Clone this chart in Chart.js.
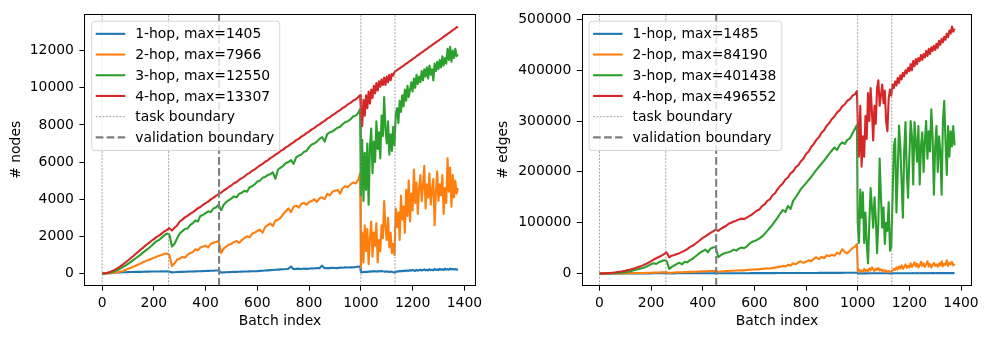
<!DOCTYPE html>
<html>
<head>
<meta charset="utf-8">
<script src="https://cdn.jsdelivr.net/npm/chart.js@4.4.0/dist/chart.umd.min.js"></script>
<style>
  html, body { margin: 0; padding: 0; background: #fff; }
  #wrap { position: relative; width: 988px; height: 339px; }
  canvas { position: absolute; top: 0; }
</style>
</head>
<body>
<div id="wrap">
  <canvas id="nodesChart" width="494" height="339" style="left:0;width:494px;height:339px"></canvas>
  <canvas id="edgesChart" width="494" height="339" style="left:494px;width:494px;height:339px"></canvas>
</div>
<script>
// Batch indices where values were read (every 10 before the jump, every 5 after)
const batches = [
  0, 10, 20, 30, 40, 50, 60, 70, 80, 90,
  100, 110, 120, 130, 140, 150, 160, 170, 180, 190,
  200, 210, 220, 230, 240, 250, 260, 270, 280, 290,
  300, 310, 320, 330, 340, 350, 360, 370, 380, 390,
  400, 410, 420, 430, 440, 450, 460, 470, 480, 490,
  500, 510, 520, 530, 540, 550, 560, 570, 580, 590,
  600, 610, 620, 630, 640, 650, 660, 670, 680, 690,
  700, 710, 720, 730, 740, 750, 760, 770, 780, 790,
  800, 810, 820, 830, 840, 850, 860, 870, 880, 890,
  900, 910, 920, 930, 940, 950, 960, 970, 980, 990,
  997,
  1000, 1005, 1010, 1015, 1020, 1025, 1030, 1035, 1040, 1045,
  1050, 1055, 1060, 1065, 1070, 1075, 1080, 1085, 1090, 1095,
  1100, 1105, 1110, 1115, 1120, 1125, 1130, 1135, 1140, 1145,
  1150, 1155, 1160, 1165, 1170, 1175, 1180, 1185, 1190, 1195,
  1200, 1205, 1210, 1215, 1220, 1225, 1230, 1235, 1240, 1245,
  1250, 1255, 1260, 1265, 1270, 1275, 1280, 1285, 1290, 1295,
  1300, 1305, 1310, 1315, 1320, 1325, 1330, 1335, 1340, 1345,
  1350, 1355, 1360, 1365, 1370, 1375
];

const hops = ['1-hop', '2-hop', '3-hop', '4-hop'];
const nodeMax = [1405, 7966, 12550, 13307];
const edgeMax = [1485, 84190, 401438, 496552];

// # nodes
const nodes1 = [
  0, 5, 10, 20, 30, 40, 50, 60, 65, 70,
  75, 80, 80, 85, 90, 90, 95, 100, 100, 105,
  105, 110, 110, 115, 110, 120, 100, 60, 70, 80,
  85, 90, 95, 100, 105, 110, 115, 120, 125, 130,
  135, 140, 145, 150, 160, 165, 50, 60, 70, 75,
  80, 85, 90, 95, 100, 105, 110, 115, 120, 125,
  130, 140, 150, 160, 170, 180, 190, 200, 210, 220,
  230, 240, 260, 380, 230, 250, 260, 240, 270, 250,
  260, 280, 270, 300, 290, 420, 280, 300, 290, 310,
  300, 290, 320, 310, 330, 320, 340, 330, 350, 370,
  380,
  80, 60, 90, 70, 100, 80, 110, 90, 120, 100,
  130, 110, 120, 100, 130, 110, 140, 120, 110, 90,
  120, 100, 80, 110, 90, 70, 60, 80, 120, 100,
  140, 110, 150, 120, 160, 130, 170, 140, 180, 150,
  190, 160, 140, 200, 150, 170, 210, 160, 190, 220,
  170, 200, 160, 230, 180, 210, 170, 240, 190, 220,
  180, 250, 200, 230, 190, 260, 210, 240, 200, 270,
  220, 250, 210, 240, 200, 230
];
const nodes2 = [
  0, 5, 10, 20, 35, 50, 70, 100, 140, 190,
  250, 300, 360, 420, 480, 550, 620, 680, 730, 790,
  840, 900, 950, 1000, 1050, 1080, 1000, 400, 550, 750,
  800, 900, 850, 1000, 1100, 1150, 1300, 1250, 1400, 1450,
  1500, 1400, 1600, 1650, 1700, 1750, 1100, 1350, 1450, 1550,
  1600, 1700, 1750, 1650, 1800, 1900, 2000, 1950, 2150, 2200,
  2300, 2350, 2200, 2500, 2600, 2700, 2550, 2850, 2900, 3000,
  3200, 3350, 3500, 3300, 3600, 3650, 3550, 3750, 3800, 3700,
  3850, 3900, 4000, 3850, 4050, 4100, 4000, 4300, 4200, 4400,
  4450, 4500, 4300, 4600, 4700, 4650, 4800, 4900, 4850, 5050,
  5400,
  300, 2200, 600, 2600, 1200, 2400, 500, 1900, 2800, 900,
  2200, 1500, 2700, 600, 1800, 1200, 2600, 1900, 3900, 2500,
  1800, 3000, 1400, 2200, 1100, 1600, 1000, 3500, 2500, 3300,
  1800, 4200, 2900, 3600, 2200, 4500, 3100, 5000, 2800, 4300,
  3400, 5600, 3800, 4900, 3200, 4600, 5300, 3900, 4700, 5800,
  3500, 4800, 4100, 5400, 3700, 4500, 5100, 2600, 4400, 5500,
  3900, 4800, 4200, 5300, 3200, 4600, 3800, 6200, 4400, 5700,
  3600, 5300, 4100, 5000, 4300, 4600
];
const nodes3 = [
  0, 5, 20, 45, 80, 130, 190, 260, 340, 420,
  520, 610, 720, 820, 920, 1030, 1150, 1260, 1360, 1480,
  1620, 1740, 1800, 1930, 2050, 2150, 2100, 1450, 1600, 1900,
  2150, 2280, 2400, 2420, 2600, 2700, 2850, 2800, 3100, 3150,
  3250, 3350, 3300, 3500, 3550, 3700, 3400, 3700, 3850, 3950,
  4050, 4150, 4100, 4300, 4350, 4450, 4400, 4650, 4700, 4800,
  4950, 5000, 5150, 5200, 5300, 5350, 5450, 5100, 5600, 5700,
  5800, 5950, 6000, 6100, 5900, 6250, 6350, 6400, 6550, 6600,
  6800, 6950, 7000, 7100, 7250, 7350, 7100, 7500, 7600, 7650,
  7750, 7850, 7900, 8050, 8150, 8200, 8300, 8450, 8500, 8650,
  8850,
  4200, 7200, 3900, 6500, 4500, 7000, 3700, 6800, 7800, 5400,
  7100, 6000, 8200, 6700, 7600, 6200, 8500, 7400, 9500, 7800,
  7000, 8200, 6400, 7500, 6600, 7900, 6900, 8600, 8900, 8100,
  9300, 8700, 9600, 9000, 9900, 9300, 10100, 9500, 9900, 10300,
  9800, 10500, 10000, 10700, 10200, 10600, 10300, 10900, 10400, 11000,
  10600, 11100, 10500, 11200, 10700, 11000, 10400, 11300, 10900, 11400,
  11000, 11500, 11100, 11700, 11200, 11600, 11300, 12100, 11500, 12200,
  11400, 12000, 11600, 12100, 11700, 11800
];
const nodes4 = [
  0, 15, 40, 80, 140, 210, 290, 380, 480, 590,
  700, 820, 930, 1060, 1170, 1300, 1410, 1530, 1630, 1750,
  1850, 1960, 2040, 2150, 2260, 2340, 2440, 2310, 2460, 2590,
  2800, 2900, 3020, 3100, 3210, 3290, 3400, 3510, 3580, 3700,
  3790, 3870, 3990, 4070, 4180, 4270, 4350, 4470, 4550, 4660,
  4750, 4860, 4930, 5050, 5140, 5220, 5340, 5420, 5530, 5610,
  5720, 5820, 5900, 6020, 6090, 6210, 6290, 6400, 6480, 6600,
  6670, 6790, 6870, 6980, 7060, 7180, 7250, 7370, 7450, 7560,
  7640, 7760, 7830, 7950, 8030, 8140, 8220, 8340, 8410, 8530,
  8610, 8720, 8800, 8920, 8990, 9110, 9190, 9300, 9380, 9500,
  9600,
  8800, 7950, 9350, 8500, 9600, 8900, 9800, 9150, 9900, 9450,
  10100, 9700, 10250, 9850, 10350, 10050, 10450, 10150, 10550, 10150,
  10600, 10300, 10700, 10400, 10750, 10650, 10850, 10900, 10950, 11000,
  11050, 11100, 11150, 11180, 11250, 11300, 11330, 11400, 11450, 11490,
  11550, 11600, 11640, 11700, 11750, 11790, 11850, 11900, 11940, 12000,
  12050, 12090, 12150, 12200, 12240, 12300, 12350, 12390, 12450, 12500,
  12540, 12600, 12650, 12690, 12750, 12800, 12840, 12900, 12950, 12990,
  13050, 13100, 13140, 13200, 13250, 13300
];

// # edges
const edges1 = [
  0, 5, 10, 20, 30, 50, 70, 90, 110, 130,
  150, 170, 190, 210, 230, 250, 270, 290, 310, 330,
  350, 370, 390, 400, 420, 440, 450, 300, 320, 340,
  360, 380, 400, 420, 440, 460, 480, 500, 520, 540,
  560, 580, 600, 620, 640, 660, 400, 420, 440, 460,
  480, 500, 520, 540, 560, 580, 600, 620, 640, 660,
  680, 700, 720, 740, 760, 780, 800, 820, 840, 860,
  880, 900, 920, 1100, 940, 960, 980, 1000, 1020, 1040,
  1060, 1080, 1100, 1120, 1140, 1400, 1160, 1180, 1200, 1220,
  1240, 1260, 1280, 1300, 1320, 1340, 1360, 1380, 1400, 1450,
  1485,
  300, 250, 350, 280, 400, 320, 450, 350, 480, 380,
  500, 420, 520, 400, 540, 430, 560, 450, 500, 400,
  480, 420, 380, 450, 400, 350, 300, 350, 450, 400,
  500, 450, 550, 480, 580, 500, 600, 520, 620, 540,
  640, 560, 520, 660, 580, 600, 680, 590, 640, 700,
  620, 680, 600, 720, 640, 690, 610, 740, 660, 700,
  630, 760, 680, 720, 650, 780, 700, 740, 670, 800,
  720, 760, 690, 750, 680, 730
];
const edges2 = [
  0, 10, 20, 40, 70, 100, 150, 200, 260, 330,
  400, 500, 600, 700, 800, 900, 1000, 1100, 1250, 1400,
  1500, 1700, 1800, 2000, 2200, 2400, 2500, 1200, 1600, 1900,
  2200, 2500, 2400, 2800, 3000, 3200, 3400, 3300, 3700, 3900,
  4100, 4300, 4500, 4800, 5000, 5300, 3500, 4000, 4300, 4600,
  4900, 5300, 5500, 5800, 6100, 6500, 6200, 6900, 7300, 7600,
  8000, 8500, 8200, 9200, 9600, 10200, 9800, 11000, 11500, 12500,
  13500, 15000, 14000, 17000, 16000, 20000, 18000, 22000, 24000, 21000,
  23000, 26000, 24000, 29000, 32000, 28000, 33000, 30000, 36000, 34000,
  37000, 35000, 41000, 38000, 48000, 42000, 40000, 45000, 50000, 53000,
  58000,
  5000, 8000, 3000, 6000, 4000, 9000, 5000, 7000, 4000, 10000,
  6000, 12000, 8000, 5000, 9000, 7000, 11000, 6000, 8000, 5000,
  7000, 4000, 6000, 3000, 5000, 3500, 4000, 6000, 9000, 7000,
  12000, 8000, 14000, 10000, 16000, 9000, 13000, 18000, 11000, 15000,
  12000, 20000, 13000, 17000, 22000, 14000, 19000, 12000, 16000, 23000,
  15000, 20000, 13000, 18000, 24000, 14000, 19000, 12000, 17000, 21000,
  15000, 18000, 13000, 20000, 16000, 24000, 14000, 19000, 17000, 26000,
  15000, 21000, 18000, 23000, 16000, 19000
];
const edges3 = [
  0, 30, 80, 150, 250, 400, 600, 900, 1300, 1900,
  2700, 3600, 4700, 5900, 7200, 8500, 9800, 11200, 13000, 15500,
  18500, 20000, 19000, 22000, 24000, 26000, 25000, 9000, 13000, 16000,
  19000, 21000, 18000, 23000, 22000, 26000, 29000, 33000, 37000, 41000,
  44000, 47000, 42000, 49000, 51000, 52000, 32000, 36000, 39000, 41000,
  42000, 44000, 47000, 45000, 49000, 51000, 50000, 53000, 58000, 62000,
  64000, 66000, 69000, 73000, 78000, 84000, 90000, 96000, 103000, 110000,
  118000, 125000, 121000, 133000, 127000, 143000, 150000, 158000, 166000, 172000,
  178000, 184000, 190000, 197000, 204000, 210000, 216000, 222000, 229000, 236000,
  242000, 248000, 243000, 253000, 258000, 255000, 263000, 266000, 276000, 286000,
  292000,
  100000, 60000, 165000, 110000, 160000, 60000, 120000, 58000, 20000, 100000,
  168000, 130000, 90000, 150000, 110000, 40000, 100000, 226000, 150000, 90000,
  130000, 58000, 100000, 84000, 140000, 45000, 52000, 150000, 250000, 265000,
  120000, 200000, 291000, 250000, 180000, 110000, 240000, 298000, 200000, 149000,
  230000, 300000, 270000, 175000, 298000, 260000, 220000, 290000, 175000, 250000,
  278000, 200000, 260000, 300000, 226000, 280000, 240000, 323000, 270000, 155000,
  250000, 290000, 200000, 270000, 240000, 155000, 300000, 340000, 260000, 194000,
  290000, 230000, 280000, 250000, 290000, 252000
];
const edges4 = [
  0, 100, 300, 600, 1000, 1500, 2100, 2800, 3600, 4500,
  5500, 6700, 8000, 9500, 11000, 12700, 14500, 16500, 18800, 21500,
  24500, 27500, 30000, 32500, 35000, 38000, 41500, 32000, 35000, 36500,
  38500, 40000, 42500, 45000, 48000, 52000, 54500, 58000, 62000, 66000,
  70000, 73000, 76500, 80000, 83000, 86500, 84000, 88000, 91000, 93500,
  98000, 100000, 102500, 104000, 106500, 108000, 107000, 110000, 113000, 116000,
  120000, 124000, 126000, 133000, 136000, 143000, 146000, 154000, 158000, 166000,
  172000, 177000, 185000, 189000, 197000, 201000, 209000, 213000, 221000, 226000,
  235000, 240000, 249000, 255000, 263000, 268000, 277000, 282000, 291000, 296000,
  304000, 309000, 317000, 321000, 329000, 333000, 340000, 343000, 350000, 353000,
  359000,
  300000, 230000, 330000, 210000, 270000, 230000, 310000, 265000, 355000, 300000,
  365000, 320000, 262000, 330000, 295000, 365000, 380000, 330000, 350000, 372000,
  335000, 360000, 300000, 280000, 345000, 362000, 350000, 372000, 365000, 378000,
  370000, 385000, 375000, 390000, 382000, 395000, 388000, 400000, 394000, 405000,
  398000, 412000, 400000, 418000, 408000, 422000, 412000, 424000, 418000, 430000,
  420000, 432000, 425000, 438000, 428000, 442000, 432000, 445000, 438000, 448000,
  440000, 452000, 444000, 458000, 450000, 462000, 455000, 466000, 460000, 472000,
  465000, 478000, 472000, 486000, 476000, 482000
];

const taskBoundaries = [0, 257, 1000, 1132];
const validationBoundaries = [452];

const xTicks = [0, 200, 400, 600, 800, 1000, 1200, 1400];
const nodeTicks = [0, 2000, 4000, 6000, 8000, 10000, 12000];
const edgeTicks = [0, 100000, 200000, 300000, 400000, 500000];

const colors = ['#1f77b4', '#ff7f0e', '#2ca02c', '#d62728'];
const fontSize = 13.9;

Chart.defaults.font.family = '"DejaVu Sans", sans-serif';
Chart.defaults.font.size = fontSize;
Chart.defaults.color = '#000';

// frame on all four sides, like matplotlib spines
const framePlugin = {
    id: 'frame',
    afterDatasetsDraw(chart) {
        const { ctx, chartArea: a } = chart;
        ctx.save();
        ctx.strokeStyle = '#000';
        ctx.lineWidth = 1;
        const l = Math.round(a.left) + 0.5, r = Math.round(a.right) - 0.5;
        const t = Math.round(a.top) + 0.5, b = Math.round(a.bottom) - 0.5;
        ctx.strokeRect(l, t, r - l, b - t);
        ctx.restore();
    }
};

// legend box inside the axes, upper left
const boxLegend = {
    id: 'boxLegend',
    afterDraw(chart) {
        const { ctx, chartArea } = chart;
        const items = chart.data.datasets;
        const x0 = chartArea.left + 7.4, y0 = chartArea.top + 7.4;
        ctx.save();
        ctx.font = fontSize + 'px "DejaVu Sans"';
        const textW = Math.max(...items.map(d => ctx.measureText(d.label).width));
        const w = 43.5 + textW + 5.5, h = 129.3;
        ctx.beginPath();
        ctx.roundRect(x0, y0, w, h, 3);
        ctx.fillStyle = 'rgba(255,255,255,0.8)';
        ctx.fill();
        ctx.strokeStyle = 'rgba(204,204,204,0.8)';
        ctx.lineWidth = 1;
        ctx.stroke();
        items.forEach((d, i) => {
            const cy = y0 + 12.6 + i * 20.7;
            ctx.beginPath();
            ctx.setLineDash(d.borderDash || []);
            ctx.strokeStyle = d.borderColor;
            ctx.lineWidth = d.borderWidth;
            ctx.moveTo(x0 + 4, cy);
            ctx.lineTo(x0 + 33.5, cy);
            ctx.stroke();
            ctx.setLineDash([]);
            ctx.fillStyle = '#000';
            ctx.textBaseline = 'middle';
            ctx.fillText(d.label, x0 + 43.5, cy + 1);
        });
        ctx.restore();
    }
};

function vlines(xs, yMin, yMax) {
    const pts = [];
    xs.forEach(b => {
        pts.push({ x: b, y: yMin }, { x: b, y: yMax }, { x: b, y: null });
    });
    return pts;
}

function makeChart(id, series, maxes, yMin, yMax, yTicks, yTitle, yWidth, titlePad, rightPad) {
    const datasets = series.map((vals, i) => ({
        label: hops[i] + ', max=' + maxes[i],
        data: batches.map((b, j) => ({ x: b, y: vals[j] })),
        borderColor: colors[i],
        borderWidth: 2.1,
        order: 6 - i,
    }));
    datasets.push({
        label: 'task boundary',
        data: vlines(taskBoundaries, yMin, yMax),
        borderColor: '#8c8c8c',
        borderWidth: 0.8,
        borderDash: [2, 1.4],
        order: 2,
    });
    datasets.push({
        label: 'validation boundary',
        data: vlines(validationBoundaries, yMin, yMax),
        borderColor: '#7f7f7f',
        borderWidth: 2.1,
        borderDash: [7.7, 3.3],
        order: 1,
    });

    return new Chart(document.getElementById(id).getContext('2d'), {
        type: 'line',
        data: { datasets },
        options: {
            responsive: false,
            animation: false,
            events: [],
            spanGaps: false,
            elements: {
                point: { radius: 0 },
                line: { tension: 0, borderJoinStyle: 'round', fill: false },
            },
            layout: { padding: { top: 9.3, right: rightPad, bottom: 0, left: 0 } },
            plugins: { legend: { display: false }, tooltip: { enabled: false } },
            scales: {
                x: {
                    type: 'linear',
                    min: -68.75,
                    max: 1443.75,
                    afterBuildTicks: axis => { axis.ticks = xTicks.map(v => ({ value: v })); },
                    afterFit: axis => { axis.height = 53.3; },
                    ticks: { callback: v => String(v), padding: 4.4, maxRotation: 0, autoSkip: false },
                    grid: { drawOnChartArea: false, tickLength: 4.9, color: '#000' },
                    border: { display: false },
                    title: { display: true, text: 'Batch index', padding: { top: 0, bottom: 9.5 } },
                },
                y: {
                    type: 'linear',
                    min: yMin,
                    max: yMax,
                    afterBuildTicks: axis => { axis.ticks = yTicks.map(v => ({ value: v })); },
                    afterFit: axis => { axis.width = yWidth; },
                    ticks: { callback: v => String(v), padding: 5.5, autoSkip: false },
                    grid: { drawOnChartArea: false, tickLength: 4.9, color: '#000' },
                    border: { display: false },
                    title: { display: true, text: yTitle, padding: { top: titlePad, bottom: 0 } },
                },
            },
        },
        plugins: [framePlugin, boxLegend],
    });
}

document.addEventListener('DOMContentLoaded', () => {
    makeChart('nodesChart', [nodes1, nodes2, nodes3, nodes4], nodeMax,
        -657, 13981, nodeTicks, '# nodes', 84.3, 7.7, 18.3);
    makeChart('edgesChart', [edges1, edges2, edges3, edges4], edgeMax,
        -24000, 511000, edgeTicks, '# edges', 87.7, 1.2, 15.7);
});
</script>
</body>
</html>
